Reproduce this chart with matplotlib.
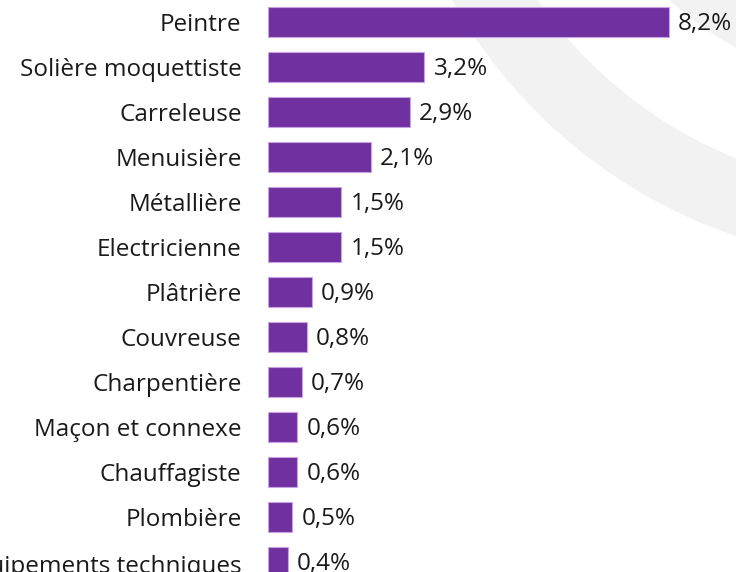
import matplotlib
matplotlib.use("Agg")
import matplotlib.pyplot as plt
from matplotlib.patches import Wedge

# data
metiers = ["Peintre", "Solière moquettiste", "Carreleuse", "Menuisière",
           "Métallière", "Electricienne", "Plâtrière", "Couvreuse",
           "Charpentière", "Maçon et connexe", "Chauffagiste", "Plombière",
           "Équipements techniques"]
parts = [8.2, 3.2, 2.9, 2.1, 1.5, 1.5, 0.9, 0.8, 0.7, 0.6, 0.6, 0.5, 0.4]
etiquettes = ["8,2%", "3,2%", "2,9%", "2,1%", "1,5%", "1,5%", "0,9%", "0,8%",
              "0,7%", "0,6%", "0,6%", "0,5%", "0,4%"]

W, H = 736, 572
plt.rcParams['font.family'] = ['Open Sans', 'DejaVu Sans']
fig = plt.figure(figsize=(W / 100, H / 100), dpi=100)

# grey rings in the background (watermark)
bg = fig.add_axes([0, 0, 1, 1])
bg.set_xlim(0, W)
bg.set_ylim(H, 0)
bg.axis('off')
centre = (900, -250)
bg.add_patch(Wedge(centre, 513, 0, 360, width=73, color='#f2f2f2', lw=0))
bg.add_patch(Wedge(centre, 340, 0, 360, width=90, color='#f2f2f2', lw=0))

# bars
x0 = 268
px_per_unit = 48.9
pitch = 45
ax = fig.add_axes([x0 / W, 0, 1 - x0 / W, 1])
ax.patch.set_alpha(0)
pos = list(range(len(parts)))
ax.barh(pos, parts, height=30 / pitch, color='#7030a0',
        edgecolor='#c9a2e3', linewidth=0.8)
for p, v, t in zip(pos, parts, etiquettes):
    ax.text(v + 9 / px_per_unit, p + 0.04, t, ha='left', va='center',
            fontsize=17.5, color='#1a1a1a')
ax.set_xlim(0, (W - x0) / px_per_unit)
ax.set_ylim((H - 22) / pitch, -22 / pitch)
ax.set_yticks(pos)
ax.set_yticklabels(metiers, fontsize=17.5, color='#1a1a1a')
ax.tick_params(axis='y', length=0, pad=19)
ax.set_xticks([])
for s in ax.spines.values():
    s.set_visible(False)

fig.savefig("out.png", dpi=100)
